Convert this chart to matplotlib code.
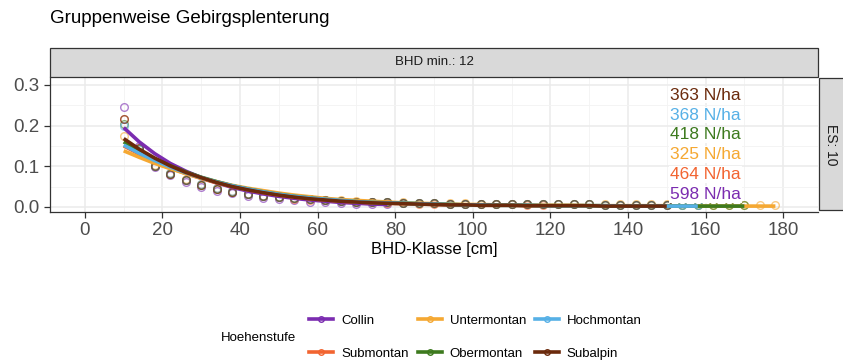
import matplotlib.pyplot as plt
from matplotlib.lines import Line2D
from matplotlib.patches import Rectangle

plt.rcParams['font.family'] = ['Liberation Sans', 'DejaVu Sans']

groups = ['Collin', 'Submontan', 'Untermontan', 'Obermontan', 'Hochmontan', 'Subalpin']
colors = ['#7B2CB0', '#F26430', '#F5A832', '#3D7A1E', '#56B0E6', '#6B2A0C']
n_ha = [598, 464, 325, 418, 368, 363]

# BHD classes (cm), 4 cm steps
bhd = [10, 14, 18, 22, 26, 30, 34, 38, 42, 46, 50, 54, 58, 62, 66, 70, 74, 78, 82, 86,
       90, 94, 98, 102, 106, 110, 114, 118, 122, 126, 130, 134, 138, 142, 146, 150,
       154, 158, 162, 166, 170, 174, 178]

# fitted curves per group
fit = {
    'Collin': [0.195, 0.160, 0.131, 0.107, 0.088, 0.072, 0.059, 0.048, 0.039, 0.032,
               0.026, 0.021, 0.017, 0.014, 0.011, 0.009, 0.007, 0.006],
    'Submontan': [0.150, 0.130, 0.112, 0.096, 0.082, 0.070, 0.059, 0.050, 0.042, 0.035,
                  0.029, 0.024, 0.020, 0.017, 0.014, 0.012, 0.010, 0.009, 0.008, 0.007,
                  0.006, 0.005, 0.005, 0.004, 0.004, 0.004, 0.003, 0.003],
    'Untermontan': [0.138, 0.122, 0.107, 0.094, 0.082, 0.071, 0.062, 0.053, 0.046, 0.040,
                    0.034, 0.029, 0.025, 0.021, 0.018, 0.016, 0.014, 0.012, 0.010, 0.009,
                    0.008, 0.007, 0.006, 0.006, 0.005, 0.005, 0.004, 0.004, 0.004, 0.004,
                    0.003, 0.003, 0.003, 0.003, 0.003, 0.003, 0.002, 0.002, 0.002, 0.002,
                    0.002, 0.002, 0.002],
    'Obermontan': [0.160, 0.138, 0.118, 0.101, 0.086, 0.073, 0.062, 0.052, 0.044, 0.037,
                   0.031, 0.026, 0.022, 0.018, 0.015, 0.013, 0.011, 0.010, 0.009, 0.008,
                   0.007, 0.006, 0.005, 0.005, 0.004, 0.004, 0.004, 0.003, 0.003, 0.003,
                   0.003, 0.003, 0.002, 0.002, 0.002, 0.002, 0.002, 0.002, 0.002, 0.002,
                   0.002],
    'Hochmontan': [0.152, 0.132, 0.114, 0.098, 0.084, 0.072, 0.061, 0.052, 0.044, 0.037,
                   0.031, 0.026, 0.022, 0.019, 0.016, 0.013, 0.011, 0.010, 0.009, 0.008,
                   0.007, 0.006, 0.005, 0.005, 0.004, 0.004, 0.004, 0.003, 0.003, 0.003,
                   0.003, 0.003, 0.002, 0.002, 0.002, 0.002, 0.002, 0.002],
    'Subalpin': [0.168, 0.142, 0.120, 0.101, 0.085, 0.072, 0.060, 0.050, 0.042, 0.035,
                 0.029, 0.024, 0.020, 0.017, 0.014, 0.012, 0.010, 0.009, 0.008, 0.007,
                 0.006, 0.005, 0.005, 0.004, 0.004, 0.004, 0.003, 0.003, 0.003, 0.003,
                 0.003, 0.002, 0.002, 0.002, 0.002, 0.002],
}

# observed relative frequencies per group
obs = {
    'Collin': [0.245, 0.150, 0.098, 0.078, 0.062, 0.050, 0.040, 0.033, 0.027, 0.022,
               0.019, 0.016, 0.013, 0.011, 0.009, 0.008, 0.007, 0.006],
    'Submontan': [0.215, 0.145, 0.100, 0.082, 0.066, 0.055, 0.045, 0.037, 0.031, 0.027,
                  0.024, 0.020, 0.018, 0.016, 0.014, 0.012, 0.011, 0.010, 0.009, 0.008,
                  0.008, 0.007, 0.007, 0.006, 0.006, 0.006, 0.005, 0.005],
    'Untermontan': [0.175, 0.135, 0.102, 0.084, 0.068, 0.056, 0.046, 0.038, 0.032, 0.028,
                    0.025, 0.022, 0.020, 0.018, 0.016, 0.014, 0.013, 0.012, 0.011, 0.010,
                    0.010, 0.009, 0.009, 0.008, 0.008, 0.008, 0.007, 0.007, 0.007, 0.007,
                    0.006, 0.006, 0.006, 0.006, 0.006, 0.006, 0.005, 0.005, 0.005, 0.005,
                    0.005, 0.005, 0.005],
    'Obermontan': [0.205, 0.142, 0.100, 0.082, 0.066, 0.055, 0.045, 0.037, 0.031, 0.027,
                   0.024, 0.021, 0.019, 0.017, 0.015, 0.013, 0.012, 0.011, 0.010, 0.009,
                   0.009, 0.008, 0.008, 0.007, 0.007, 0.007, 0.006, 0.006, 0.006, 0.006,
                   0.006, 0.005, 0.005, 0.005, 0.005, 0.005, 0.005, 0.005, 0.004, 0.004,
                   0.004],
    'Hochmontan': [0.200, 0.142, 0.101, 0.083, 0.067, 0.056, 0.046, 0.038, 0.032, 0.028,
                   0.025, 0.021, 0.019, 0.017, 0.015, 0.013, 0.012, 0.011, 0.010, 0.009,
                   0.009, 0.008, 0.008, 0.007, 0.007, 0.007, 0.006, 0.006, 0.006, 0.006,
                   0.006, 0.005, 0.005, 0.005, 0.005, 0.005, 0.005, 0.005],
    'Subalpin': [0.215, 0.145, 0.100, 0.082, 0.066, 0.055, 0.045, 0.037, 0.031, 0.027,
                 0.024, 0.021, 0.019, 0.017, 0.015, 0.013, 0.012, 0.011, 0.010, 0.009,
                 0.009, 0.008, 0.008, 0.007, 0.007, 0.007, 0.006, 0.006, 0.006, 0.006,
                 0.006, 0.005, 0.005, 0.005, 0.005, 0.005],
}

label_y = [0.030, 0.079, 0.128, 0.177, 0.226, 0.275]

fig = plt.figure(figsize=(8.43, 3.64), dpi=100)
ax = fig.add_axes([0.0593, 0.4176, 0.9111, 0.3709])

for g, c in zip(groups, colors):
    y_o = obs[g]
    ax.plot(bhd[:len(y_o)], y_o, 'o', ms=5.5, mfc='none', mec=c, mew=1.0, alpha=0.6, zorder=2)
for g, c in zip(groups, colors):
    y_f = fit[g]
    ax.plot(bhd[:len(y_f)], y_f, '-', color=c, lw=2.6, solid_capstyle='butt', zorder=3)

for n, yv, c in zip(n_ha, label_y, colors):
    ax.text(160, yv, f'{n} N/ha', color=c, fontsize=12.5, ha='center', va='center', zorder=5,
            bbox=dict(boxstyle='square,pad=0.05', fc='white', ec='none'))

ax.set_xlim(-9, 189)
ax.set_ylim(-0.0125, 0.3195)
ax.set_xticks(range(0, 181, 20))
ax.set_xticks(range(10, 181, 20), minor=True)
ax.set_yticks([0.0, 0.1, 0.2, 0.3])
ax.set_yticks([0.05, 0.15, 0.25], minor=True)
ax.set_yticklabels(['0.0', '0.1', '0.2', '0.3'])
ax.grid(which='major', color='#EBEBEB', lw=1.1)
ax.grid(which='minor', color='#F3F3F3', lw=0.6)
ax.set_axisbelow(True)
ax.tick_params(which='major', colors='#333333', labelcolor='#4D4D4D', labelsize=13.5,
               length=4, width=0.9)
ax.tick_params(which='minor', length=0)
for s in ['top', 'right']:
    ax.spines[s].set_visible(False)
for s in ['left', 'bottom']:
    ax.spines[s].set_color('#333333')
    ax.spines[s].set_linewidth(0.9)
ax.set_xlabel('BHD-Klasse [cm]', fontsize=12, color='black', labelpad=2)

# facet strips
fig.add_artist(Rectangle((0.0593, 0.7885), 0.9111, 0.0797, transform=fig.transFigure,
                         fc='#D9D9D9', ec='#333333', lw=0.9))
fig.text(0.515, 0.829, 'BHD min.: 12', ha='center', va='center', fontsize=9.5, color='#1A1A1A')
fig.add_artist(Rectangle((0.9715, 0.4230), 0.035, 0.3630, transform=fig.transFigure,
                         fc='#D9D9D9', ec='#333333', lw=0.9))
fig.text(0.986, 0.603, 'ES: 10', ha='center', va='center', fontsize=10, color='#1A1A1A',
         rotation=-90)

fig.text(0.0593, 0.95, 'Gruppenweise Gebirgsplenterung', fontsize=13.5, ha='left',
         va='center', color='black')

# legend
handles = [Line2D([], [], color=c, lw=2.6, marker='o', ms=4, mfc='none', mec=c)
           for c in colors]
fig.legend(handles, groups, ncol=3, loc='center left', bbox_to_anchor=(0.353, 0.074),
           frameon=False, fontsize=9.5, handlelength=1.8, handletextpad=0.6,
           columnspacing=0.7, labelspacing=1.55)
fig.text(0.262, 0.072, 'Hoehenstufe', fontsize=9.5, ha='left', va='center')

fig.savefig('out.png', dpi=100)
